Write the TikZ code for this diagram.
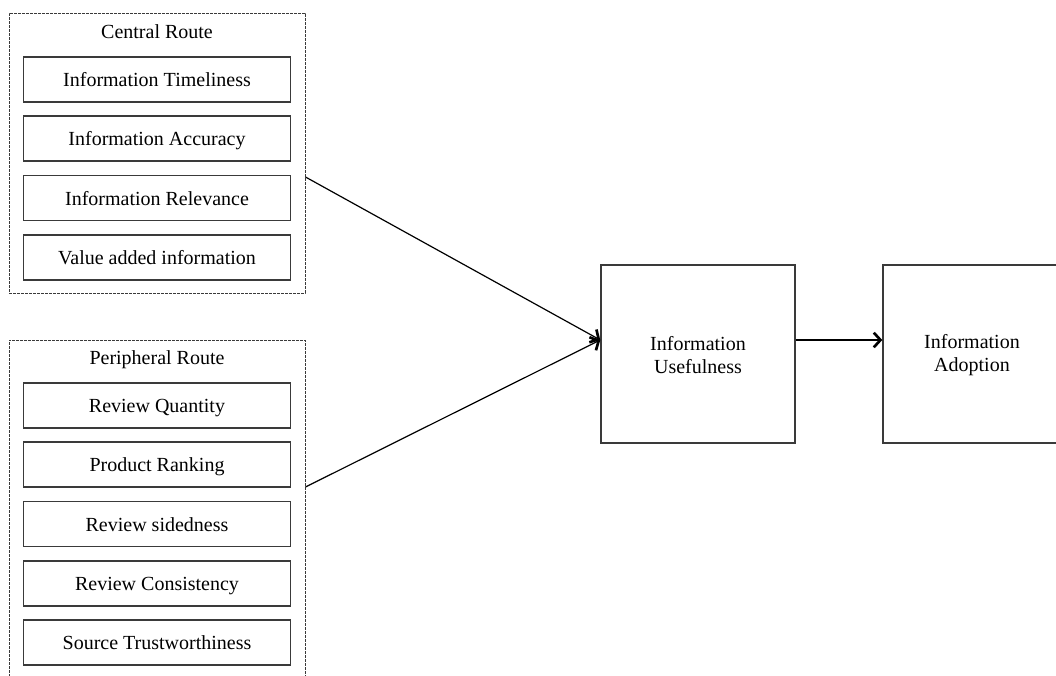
\documentclass[tikz,border=0pt]{standalone}
\usepackage{fontspec}
\setmainfont{Liberation Serif}
\usetikzlibrary{arrows.meta,calc}
\definecolor{edge}{HTML}{3A3A3A}
\begin{document}
\begin{tikzpicture}[x=0.75pt,y=-0.75pt,
  every node/.style={font=\fontsize{15}{17.3}\selectfont,text height=12pt,text depth=1.5pt},
  factor/.style={draw=edge,line width=1.1pt,minimum width=267*0.75pt,
    minimum height=45*0.75pt,inner sep=0pt},
  route/.style={draw=edge,line width=0.75pt,dash pattern=on 2pt off 1pt,
    minimum width=296*0.75pt,inner sep=0pt,text height=,text depth=},
  construct/.style={draw=edge,line width=1.1pt,minimum width=194*0.75pt,
    minimum height=178*0.75pt,inner sep=0pt,text height=,text depth=},
  label2/.style={align=center,text height=,text depth=},
  link/.style={line width=0.9pt,-{Straight Barb[length=5pt,width=11pt,line width=2pt]}}]
\useasboundingbox (0,0) rectangle (1056,675);
\clip (0,0) rectangle (1056,675);
% central route group
\node[route,minimum height=280*0.75pt] (central) at (157,153) {};
\node (ctitle) at (157,31) {Central Route};
\node[factor] (c1) at (157,79.5) {Information Timeliness};
\node[factor] (c2) at (157,138.5) {Information Accuracy};
\node[factor] (c3) at (157,198) {Information Relevance};
\node[factor] (c4) at (157,257.5) {Value added information};
% peripheral route group
\node[route,minimum height=350*0.75pt] (peripheral) at (157,515) {};
\node (ptitle) at (157,357) {Peripheral Route};
\node[factor] (p1) at (157,405.5) {Review Quantity};
\node[factor] (p2) at (157,464.5) {Product Ranking};
\node[factor] (p3) at (157,524) {Review sidedness};
\node[factor] (p4) at (157,583.5) {Review Consistency};
\node[factor] (p5) at (157,642.5) {Source Trustworthiness};
% outcome constructs
\node[construct] (use) at (698,354) {};
\node[label2] (usetext) at (698,355) {Information\\Usefulness};
\node[construct] (adopt) at (980,354) {};
\node[label2] (adopttext) at (972,355) {Information\\Adoption};
% connectors
\coordinate (cout) at ($(central.east)+(0,24)$);
\coordinate (pout) at ($(peripheral.east)+(0,-28)$);
\coordinate (usein) at ($(use.west)+(0,-14)$);
\draw[link] (cout) -- (usein);
\draw[link] (pout) -- (usein);
\draw[link] (usein -| use.east) -- (usein -| adopt.west);
\end{tikzpicture}
\end{document}
